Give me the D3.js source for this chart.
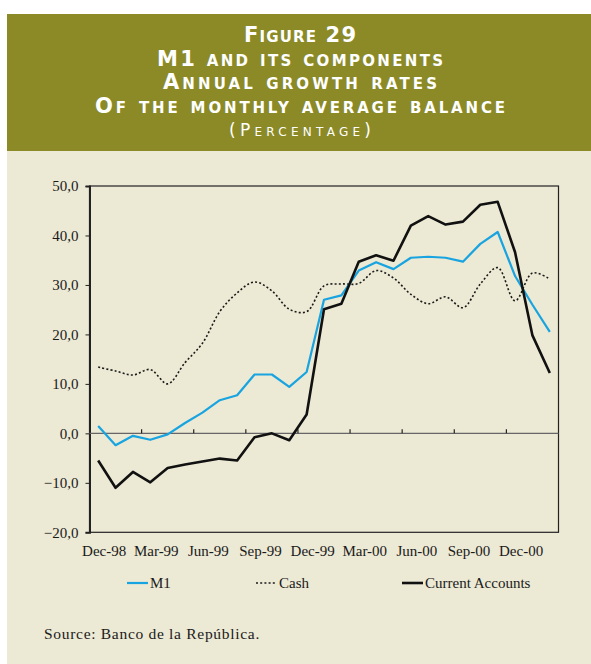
<!DOCTYPE html>
<html>
<head>
<meta charset="utf-8">
<script src="https://cdn.jsdelivr.net/npm/d3@7"></script>
<style>
  html, body { margin: 0; padding: 0; background: #ffffff; }
  svg { display: block; }
  .title { fill: #ffffff; font-family: "DejaVu Sans", sans-serif; font-variant: small-caps; }
  .tick-label { font-family: "Liberation Serif", serif; font-size: 15px; fill: #1a1a1a; }
</style>
</head>
<body>
<div id="chart"></div>
<script>
// categories: monthly, Dec-98 .. Feb-01
var months = ['Dec-98', 'Jan-99', 'Feb-99', 'Mar-99', 'Apr-99', 'May-99', 'Jun-99', 'Jul-99',
  'Aug-99', 'Sep-99', 'Oct-99', 'Nov-99', 'Dec-99', 'Jan-00', 'Feb-00', 'Mar-00', 'Apr-00',
  'May-00', 'Jun-00', 'Jul-00', 'Aug-00', 'Sep-00', 'Oct-00', 'Nov-00', 'Dec-00', 'Jan-01', 'Feb-01'];

var m1 = [1.5, -2.4, -0.5, -1.3, -0.2, 2.1, 4.2, 6.7, 7.7, 11.9, 11.9, 9.4, 12.4, 27.0, 27.9,
  32.9, 34.6, 33.2, 35.5, 35.7, 35.5, 34.7, 38.3, 40.7, 31.8, 26.0, 20.5];

var cash = [13.4, 12.6, 11.8, 12.9, 10.0, 14.3, 18.2, 24.6, 28.4, 30.6, 28.8, 25.1, 24.6, 29.8,
  30.2, 30.3, 32.9, 31.4, 28.1, 26.2, 27.6, 25.4, 30.2, 33.5, 26.8, 32.4, 31.2];

var currentAccounts = [-5.5, -11.0, -7.8, -9.9, -7.0, -6.3, -5.7, -5.1, -5.5, -0.8, 0.0, -1.4,
  3.8, 25.1, 26.2, 34.7, 36.0, 34.9, 42.0, 43.9, 42.2, 42.8, 46.2, 46.8, 36.6, 19.8, 12.2];

var yTicks = [-20, -10, 0, 10, 20, 30, 40, 50];
var labelEvery = 3;

var titleLines = [
  { text: 'Figure  29', size: 21, y: 42, width: 112, weight: 'bold' },
  { text: 'M1 and its components', size: 21, y: 66, width: 286, weight: 'bold' },
  { text: 'Annual growth rates', size: 21, y: 89, width: 274, weight: 'bold' },
  { text: 'Of the monthly average balance', size: 21, y: 113, width: 410, weight: 'bold' },
  { text: '(Percentage)', size: 17, y: 136, width: 142, weight: 'normal' }
];

var legendItems = [
  { name: 'M1', color: '#18a4e0', dash: null, width: 2.2, x: 127 },
  { name: 'Cash', color: '#1a1a1a', dash: '2,2.2', width: 1.6, x: 256 },
  { name: 'Current Accounts', color: '#111111', dash: null, width: 2.6, x: 402 }
];

var W = 591, H = 664;
var plot = { left: 89.5, right: 558.5, top: 186, bottom: 532.3 };

var svg = d3.select('#chart').append('svg')
    .attr('width', W)
    .attr('height', H);

// backgrounds
svg.append('rect').attr('x', 7).attr('y', 14).attr('width', W - 7).attr('height', H - 14)
    .attr('fill', '#ece9d4');
svg.append('rect').attr('x', 7).attr('y', 14).attr('width', W - 7).attr('height', 137)
    .attr('fill', '#8b8a27');

svg.selectAll('.title')
    .data(titleLines)
  .enter().append('text')
    .attr('class', 'title')
    .attr('x', 300)
    .attr('y', function(d) { return d.y; })
    .attr('text-anchor', 'middle')
    .style('font-size', function(d) { return d.size + 'px'; })
    .style('font-weight', function(d) { return d.weight; })
    .attr('textLength', function(d) { return d.width; })
    .attr('lengthAdjust', 'spacing')
    .text(function(d) { return d.text; });

// scales
var x = d3.scaleBand()
    .domain(months)
    .range([plot.left, plot.right]);

var y = d3.scaleLinear()
    .domain([-20, 50])
    .range([plot.bottom, plot.top]);

function cx(i) { return x(months[i]) + x.bandwidth() / 2; }

// frame
svg.append('rect')
    .attr('x', plot.left).attr('y', plot.top)
    .attr('width', plot.right - plot.left).attr('height', plot.bottom - plot.top)
    .attr('fill', 'none').attr('stroke', '#222').attr('stroke-width', 1.2);

// y axis
var yAxis = svg.append('g')
    .attr('transform', 'translate(' + plot.left + ',0)')
    .call(d3.axisLeft(y).tickValues(yTicks).tickSize(4).tickPadding(7)
      .tickFormat(function(d) { return d3.format('.1f')(d).replace('.', ','); }));
yAxis.select('.domain').attr('stroke', '#222').attr('stroke-width', 2);
yAxis.selectAll('line').attr('stroke', '#222');
yAxis.selectAll('text').attr('class', 'tick-label').attr('font-size', null).attr('font-family', null);
yAxis.attr('font-size', null).attr('font-family', null);

// zero line with category ticks
svg.append('line')
    .attr('x1', plot.left).attr('x2', plot.right)
    .attr('y1', y(0)).attr('y2', y(0))
    .attr('stroke', '#666').attr('stroke-width', 1.4);

var boundaryIdx = d3.range(labelEvery, months.length - 1, labelEvery);
svg.selectAll('.xtick')
    .data(boundaryIdx)
  .enter().append('line')
    .attr('x1', function(i) { return x(months[i]); })
    .attr('x2', function(i) { return x(months[i]); })
    .attr('y1', y(0)).attr('y2', y(0) - 4)
    .attr('stroke', '#222').attr('stroke-width', 1.2);

var labelIdx = d3.range(0, months.length, labelEvery);
svg.selectAll('.xlabel')
    .data(labelIdx)
  .enter().append('text')
    .attr('class', 'tick-label')
    .attr('x', function(i) { return cx(i) + 6; })
    .attr('y', 556)
    .attr('text-anchor', 'middle')
    .text(function(i) { return months[i]; });

// lines
var straight = d3.line()
    .x(function(d, i) { return cx(i); })
    .y(function(d) { return y(d); });

var smooth = d3.line()
    .x(function(d, i) { return cx(i); })
    .y(function(d) { return y(d); })
    .curve(d3.curveCatmullRom.alpha(0.5));

svg.append('path').datum(cash)
    .attr('d', smooth)
    .attr('fill', 'none').attr('stroke', legendItems[1].color)
    .attr('stroke-width', legendItems[1].width)
    .attr('stroke-dasharray', legendItems[1].dash);

svg.append('path').datum(m1)
    .attr('d', straight)
    .attr('fill', 'none').attr('stroke', legendItems[0].color)
    .attr('stroke-width', legendItems[0].width)
    .attr('stroke-linejoin', 'round');

svg.append('path').datum(currentAccounts)
    .attr('d', straight)
    .attr('fill', 'none').attr('stroke', legendItems[2].color)
    .attr('stroke-width', legendItems[2].width)
    .attr('stroke-linejoin', 'round');

// legend
var legend = svg.selectAll('.legend')
    .data(legendItems)
  .enter().append('g')
    .attr('transform', function(d) { return 'translate(' + d.x + ',583)'; });
legend.append('line')
    .attr('x1', 0).attr('x2', 21)
    .attr('stroke', function(d) { return d.color; })
    .attr('stroke-width', function(d) { return d.width; })
    .attr('stroke-dasharray', function(d) { return d.dash; });
legend.append('text')
    .attr('class', 'tick-label')
    .attr('x', 23).attr('y', 5)
    .text(function(d) { return d.name; });

// source
svg.append('text')
    .attr('x', 44).attr('y', 639)
    .attr('font-family', '"Liberation Serif", serif')
    .attr('font-size', 15.5)
    .attr('letter-spacing', 0.7)
    .attr('fill', '#1a1a1a')
    .text('Source: Banco de la República.');
</script>
</body>
</html>
